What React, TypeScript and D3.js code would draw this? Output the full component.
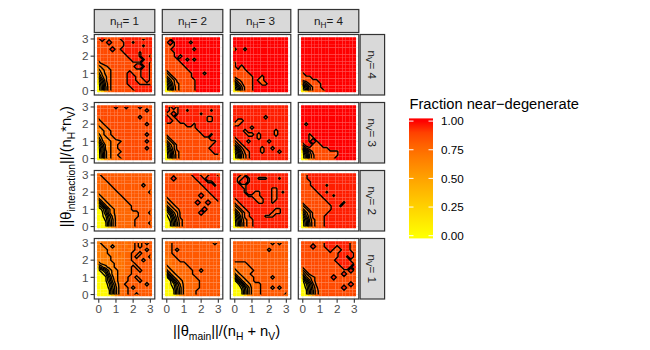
import React from 'react';
import * as d3 from 'd3';

// facet levels (rows listed top to bottom)
const nHLevels = [1, 2, 3, 4];
const nVLevels = [4, 3, 2, 1];
const gridSteps = [0, 0.2, 0.4, 0.6, 0.8, 1.0, 1.2, 1.4, 1.6, 1.8, 2.0, 2.2, 2.4, 2.6, 2.8, 3.0];
const axisTicks = [0, 1, 2, 3];
const contourBreaks = [0.1, 0.2, 0.3, 0.4, 0.5, 0.6, 0.7, 0.8, 0.9];
const legendBreaks = [0, 0.25, 0.5, 0.75, 1];

// each cell is one char: '0'..'k' = 0/20 .. 20/20 of the fraction.
// rows run from y = 3 (top) down to y = 0, columns from x = 0 to x = 3
const codeChars = '0123456789abcdefghijk';

const gridV4H1 = [
  'hjhhhhhjjjjjjhjj', 'hhhjhhhhjjhjjjjj', 'hhhhhhhhjjjjjhjj', 'hhhhjhhjjjjjjjjj',
  'hhhhhhhhjjjjhjjj', 'hhhhhhhhhjjjhjjh', 'ghhhhhhhhhjjjhjj', 'fghhhhhhhhhhhjjh',
  'defghhhhhhhjjhjh', 'bdefghhhhhhhhjjh', '9cefghhhhjhhhjjh', '6bdfghhhhjjhhjjh',
  '38dfghhhhjjhhhjh', '16cfghhhhjjjhhhh', '05bfghhhhhjjjjjj', '05bfghhhhhhjjjjj',
];
const gridV4H2 = [
  'hhkkkkkkkkkkkkkk', 'hkhkkkkgkkkkkkkk', 'hhhkkkkkkkkkkkkk', 'hhkkkkkkgkkkkkkk',
  'hhhkkkkkkkkkkkkk', 'hhhkgkkkkkkkkkkk', 'hhhhkkgkgkkkkkkk', 'hhhhhkkkkkkkkkkk',
  'hhhhhhkkkkkkkkkk', 'ghhhhhhkkkkkkkkk', 'dghhhhhhkkkgkkkk', 'bdghhhhhkkkkkkkk',
  '6bdghhhhhkkkkkkk', '38dfghhhhkkkkkkk', '16cfghhhhkkkkkkk', '05cfghhhhkkkkkkk',
];
const gridV4H3 = [
  'kkkkkkkkkkkkkkkk', 'kkkkkkkkkkkkkkkk', 'kkkkkkkkkkkkkkkk', 'gkkgkkkkkkkkkkkk',
  'kkkkkkkkkkkkkkkk', 'kkkkkkkkkkkkkkkk', 'kkkkkkkkkkkkkkkk', 'hkkkkkkkkkkkkkkk',
  'hkgkkkkkkkkkkkkk', 'hhhhkkkkkkkkkkkk', 'hhhhhkkkkkkkkkkk', 'ghhhhhkkgkkkkkkk',
  'cfghhhkggkkkkkkk', '6cfhhhkkggkkkkkk', '38dghhkkkkkkkkkk', '16dghhkkkkkkkkkk',
];
const gridV4H4 = [
  'kkkkkkkkkkkkkkkk', 'kkkkkkkkkkkkkkkk', 'kkkkkkkkkkkkkkkk', 'kkkkkkkkkkkkkkkk',
  'kkkkkkkkkkkkkkkk', 'kkkkkkkkkkkkkkkk', 'kkkkkkkkkkkkkkkk', 'kkkkkkkkkkkkkkkk',
  'kkkkkkkkkkkkkkkk', 'kkkkkkkkkkkkkkkk', 'hkkkkkkkkkkkkkkk', 'hhhkkkkkkkkkkkkk',
  'ghhhhkkkkkkkkkkk', 'bdghhhkkkkkkkkkk', '38dghhkkkkkkkkkk', '16dghhhkkkkkkkkk',
];
const gridV3H1 = [
  'hhhhhihhihhhihhh', 'hhhhhhhhhhhhhhih', 'hhhhhhhhhhhhhhhh', 'ghhhhhhhhhhhihhh',
  'fghhhhhhhhhhhhhh', 'efghhhhhhhhhhhih', 'defghhhhhhhhhhhh', 'ddefghhhhhhhhhhh',
  'bdefghhhhhhhhhih', '9cdefghhhhhhhhhh', '6bddeffghhhhhhih', '38cdefghhhhhhhhh',
  '16cdefghhhhhhhih', '06bdeffghhhhhhhh', '05bdefghhhhhhhhh', '05bdeffghhhhhhhh',
];
const gridV3H2 = [
  'jhjhjjjjjjjjjjjj', 'jhhhjjhjjjjjjhjj', 'hhjhjjjjjjhjjjjj', 'jhhjjjjjjjjjhhjj',
  'jjhhjjjjjjjjhhjj', 'hhhhhhjjhjjjjjjj', 'hhhhhhhhhjjjjjjj', 'hhhhhhhhhhjjjjjj',
  'ghhhhhhhhhhjjhjj', 'dghhhhhhhhhhhjjj', 'bdghhhhhhhhhhhhj', '6bdghhhhhhhhhhjj',
  '39dghhhhhhhhhjjj', '16cfghhhhhhhhhjj', '05bfghhhhhhhhhhh', '05bfghhhhhhhhhhh',
];
const gridV3H3 = [
  'jjjjjjjjjjjjjjjj', 'jjjjjjjjjjjjjjjj', 'jjjjjjjjjjjjjjjj', 'jjjjjjjjjgjjjjjj',
  'jggjjjjjjjjjjjjj', 'ggjjjjjjjjjjjjjj', 'jjjjjgjjjjjjjjjj', 'jjjgjjjjjjjjgjjj',
  'jjjjggjgjjjjgjjj', 'hjjjjjjgjjjjjjjj', 'fhjjgjjjjjgjjjjj', 'cfhjjjjjjjjjjjjj',
  '6bfhjjjjgjjgjjjj', '27dghjjjgjjjjgjj', '05cfhjjjjjjjjjjj', '05cfhjjjjjjjjjjj',
];
const gridV3H4 = [
  'kkkkkkkkkkkkkkkk', 'kkkkkkkkkkkkkkkk', 'kkkkkkkkkkkkkkkk', 'kkkkkkkkkkkkkkkk',
  'kkkkkkkkkkkkkkkk', 'kgkkkkkkkkkkkkkk', 'kkkkkkkkkkkkkkkk', 'kkkkkkkkkkkkkkkk',
  'kkhkkkkkkkkkkkkk', 'kkhhkkkkkkkkkkkk', 'jkhkhkkkkkkkkkkk', 'gjkhhhkkkkkkkkkk',
  'bfhhhhhhkkkkkkkk', '28dghhhhhhhkkkkk', '05cfhhhhhhhkkkkk', '05cfhhhhhhkkkkkk',
];
const gridV2H1 = [
  'fggggggggggggggg', 'ffgggggggggggggg', 'fffggggggggggggg', 'ffffgggggggggfgg',
  'fffffggggggggggg', 'efffffgggggggggf', 'defffffggggggggg', 'bdefffffgggggggg',
  '6bdefffffggggggg', '36bdefffffgggggg', '026bdeffffgggggg', '015bdeffffffgggf',
  '0138ceffffffgggg', '0027befffffggggg', '0016befffffggggf', '0016befffffggggg',
];
const gridV2H2 = [
  'hhhhhhhhjjhhhjjh', 'hhjhhhhhhjjhjjjj', 'hhhhhhhhhhjjhhjj', 'hhhhhhhhhhhjjjhj',
  'hhhhhhhhhhhhjjjj', 'hhhhhhhhhhhhhjjj', 'ghhhhhhhhhjhhhjj', 'fghhhhhhhhhhhhhj',
  'dfghhhhhhjhhjhhh', 'bdfghhhhhhhhhhhh', '6bdfghhhhhhjhhhh', '26bdghhhhhjhhhhh',
  '139dghhhhhhhhhhh', '027cfghhhhhhhhhh', '016bfghhhhhhhhhh', '016bfghhhhhhhhhh',
];
const gridV2H3 = [
  'jjhhjjjjjjjjjjjj', 'jhhjhjjhhhjjjhjj', 'jhjjhjjjjjjjjjjj', 'jjhhjjjjjjjjjjjj',
  'jjjhjjjjjjjhhjjj', 'jjjhjjhhjjjhhjhj', 'jjjjhhhhjjjhhjjj', 'hjjjjjhhhjjhhjjj',
  'ghjjjjjhhjjhjjjj', 'dghjjjjjjjjjjjjj', 'bdghjjjjjjjjhhjj', '6bdghjjjjjjhhhjj',
  '38dghjjjjhhhjjjj', '16cfghjjjjjjjjjj', '05bfghjjjjjjjjjj', '05bfghjjjjjjjjjj',
];
const gridV2H4 = [
  'hhjjjjjjjjjjjjjj', 'hhjjjjjjjjjjjjjj', 'hhhjjjjjjjjjjjjj', 'hhhjjjjhjjjjjjjj',
  'hhhhjjjjjjjjjjjj', 'hhhhhjjhjjjjjjjj', 'hhhhhhjjjhjjjjjj', 'hhhhhhhjjjjjjjjj',
  'ghhhhhhhjjjjhjjj', 'dghhhhhhhjjhjjjj', 'bdghhhhhhjjjjjjj', '6bdghhhhjjjjjjjj',
  '39dghhhjjjjjjjjj', '16cfghhjjjjjjjjj', '05bfghhjjjjjjjjj', '05bfghhjjjjjjjjj',
];
const gridV1H1 = [
  'deeeeeffeffgfgfg', 'ddeedeefeffgfggg', 'dddeeeeffefgggfg', 'dddeeefeffggfggg',
  'ddddeeeeffgfgggf', 'cdddeeeeffgggfgg', 'bccddeeefffggggg', '69bcdeeeffgfgggg',
  '136acdeeffggfggg', '0139cdeeffgggggg', '0016bdeffggfgggg', '0015adeffgggfggg',
  '00038cefggggggfg', '00027beffgfggggg', '00016beffggggggg', '00016beffggfgggg',
];
const gridV1H2 = [
  'ffggggggggggggfg', 'ffgggggggggggggg', 'ffgfgggggggggggg', 'ffgggggggggggggg',
  'effggggggggggggg', 'eeffgggggggggggg', 'eeffffgggggggggg', 'deeffffggggggggg',
  'bdefffffggfggggg', '6bdeffffgggggggg', '16bdeffffggggggg', '016bdeffffgggggg',
  '0138ceffffgggggg', '0027beffffgggggg', '0016befffggggggg', '0016befffggggggg',
];
const gridV1H3 = [
  'gggggggggggfgfgg', 'gggggggggggggggg', 'ggggggggggfggggg', 'gggggggggggggggg',
  'gggggggggggggggg', 'gggggggggggggggg', 'ffffgggggggggggg', 'effffggggggggggg',
  'deffffgggggggggg', 'bdeffggggggggggg', '6bdeffgggggfgggg', '16bdefgggggggggg',
  '015bdeffgggggggg', '0027beffgggfgfgg', '0016beffgggggggg', '0016beffgggggggf',
];
const gridV1H4 = [
  'hhhhhhhjjjjjjjhh', 'hhhjhhhjjjhjjjhh', 'hhhhhhhhjhhhjjhh', 'hhhhhhhhhhhjjjjh',
  'hhhhhhhhhhhjjhjh', 'hhhhhhhhhhjjjjhh', 'hhhhhhhhhhhjjjjh', 'ghhhhhhhhhhhjjhj',
  'dghhhhhhhhhhhhjh', 'adghhhhhhhhhjhhh', '5bdfghhhhjhhhhhh', '16bfghhhhhhhhhhh',
  '038dghhhhhhhhhjh', '027cfhhhhhhhjhhh', '016bfghhhhhhhhhh', '016bfghhhhhhhhhh',
];

const panelGrids: Record<string, string[]> = {
  '4-1': gridV4H1, '4-2': gridV4H2, '4-3': gridV4H3, '4-4': gridV4H4,
  '3-1': gridV3H1, '3-2': gridV3H2, '3-3': gridV3H3, '3-4': gridV3H4,
  '2-1': gridV2H1, '2-2': gridV2H2, '2-3': gridV2H3, '2-4': gridV2H4,
  '1-1': gridV1H1, '1-2': gridV1H2, '1-3': gridV1H3, '1-4': gridV1H4,
};

const FONT = '"Liberation Sans", Arimo, Arial, Helvetica, sans-serif';
const W = 650;
const H = 350;
const panelSize = 60.5;
const panelX0 = 94.3;
const panelY0 = 34.5;
const panelStep = 68;
const expand = 0.26;

const fillScale = d3.scaleLinear<string>()
  .domain([0, 1])
  .range(['#FFFF00', '#FF0000'])
  .interpolate(d3.interpolateLab)
  .clamp(true);

// codes are twentieths; nudged a little so no cell sits exactly on a break
const decode = (rows: string[]) =>
  rows.map(r => Array.from(r).map(ch => Math.min(1, codeChars.indexOf(ch) / 20 + 0.025)));

const Sub = ({ children, size, shift }: any) => (
  <tspan dy={shift} fontSize={size}>{children}</tspan>
);

function Panel({ grid, left, top, id }: { grid: string[]; left: number; top: number; id: string }) {
  const x = d3.scaleLinear().domain([-expand, 3 + expand]).range([left, left + panelSize]);
  const y = d3.scaleLinear().domain([-expand, 3 + expand]).range([top + panelSize, top]);
  const n = gridSteps.length;
  const step = gridSteps[1] - gridSteps[0];
  const half = step / 2;
  const values = decode(grid);

  const contours = d3.contours().size([n, n]).thresholds(contourBreaks)(values.flat());
  const proj = d3.geoTransform({
    point(gx: number, gy: number) {
      (this as any).stream.point(x(gridSteps[0] + (gx - 0.5) * step), y(gridSteps[n - 1] - (gy - 0.5) * step));
    },
  });
  const path = d3.geoPath(proj);

  const minors = [0.5, 1.5, 2.5];

  return (
    <g>
      <defs>
        <clipPath id={`clip-${id}`}>
          <rect x={x(0)} y={y(3)} width={x(3) - x(0)} height={y(0) - y(3)} />
        </clipPath>
      </defs>
      <rect x={left} y={top} width={panelSize} height={panelSize} fill="#FFFFFF" />
      {minors.map(m => (
        <g key={`mi${m}`}>
          <line x1={x(m)} x2={x(m)} y1={top} y2={top + panelSize} stroke="#EBEBEB" strokeWidth={0.5} />
          <line y1={y(m)} y2={y(m)} x1={left} x2={left + panelSize} stroke="#EBEBEB" strokeWidth={0.5} />
        </g>
      ))}
      {axisTicks.map(m => (
        <g key={`ma${m}`}>
          <line x1={x(m)} x2={x(m)} y1={top} y2={top + panelSize} stroke="#EBEBEB" strokeWidth={1} />
          <line y1={y(m)} y2={y(m)} x1={left} x2={left + panelSize} stroke="#EBEBEB" strokeWidth={1} />
        </g>
      ))}
      {values.map((row, r) =>
        row.map((v, i) => {
          const cx = gridSteps[i];
          const cy = gridSteps[n - 1 - r];
          return (
            <rect
              key={`${r}-${i}`}
              x={x(cx - half)}
              y={y(cy + half)}
              width={x(cx + half) - x(cx - half)}
              height={y(cy - half) - y(cy + half)}
              fill={fillScale(v)}
            />
          );
        })
      )}
      <g clipPath={`url(#clip-${id})`}>
        {contours.map((c, k) => (
          <path key={k} d={path(c as any) || ''} fill="none" stroke="#000000" strokeWidth={1.4} strokeLinejoin="round" />
        ))}
      </g>
      <rect x={left} y={top} width={panelSize} height={panelSize} fill="none" stroke="#333333" strokeWidth={1.2} />
    </g>
  );
}

export default function App() {
  const colLeft = (c: number) => panelX0 + c * panelStep;
  const rowTop = (r: number) => panelY0 + r * panelStep;
  const bottom = rowTop(nVLevels.length - 1) + panelSize;
  const rightEdge = colLeft(nHLevels.length - 1) + panelSize;
  const axisScale = (left: number) => d3.scaleLinear().domain([-expand, 3 + expand]).range([left, left + panelSize]);
  const axisScaleY = (top: number) => d3.scaleLinear().domain([-expand, 3 + expand]).range([top + panelSize, top]);

  // legend
  const legX = 409;
  const legW = 24;
  const legY = d3.scaleLinear().domain([0, 1]).range([235.7, 121.1]);
  const fmt = d3.format('.2f');
  const gradStops = d3.range(0, 1.0001, 0.1);

  const stripX = rightEdge + 1.3;
  const stripW = 24.5;

  return (
    <div style={{ position: 'absolute', left: 0, top: 0 }}>
      <svg width={W} height={H} style={{ display: 'block', fontFamily: FONT }}>
        <rect width={W} height={H} fill="#FFFFFF" />

        {nVLevels.map((nv, r) =>
          nHLevels.map((nh, c) => (
            <Panel key={`${nv}-${nh}`} id={`${nv}-${nh}`} grid={panelGrids[`${nv}-${nh}`]} left={colLeft(c)} top={rowTop(r)} />
          ))
        )}

        {/* top strips */}
        {nHLevels.map((nh, c) => (
          <g key={`st${nh}`}>
            <rect x={colLeft(c)} y={9.5} width={panelSize} height={23} fill="#D9D9D9" stroke="#333333" strokeWidth={1.2} />
            <text x={colLeft(c) + panelSize / 2} y={25.2} textAnchor="middle" fontSize={11.7} fill="#1A1A1A">
              n<Sub size={8.2} shift={2.6}>H</Sub><tspan dy={-2.6}>{`= ${nh}`}</tspan>
            </text>
          </g>
        ))}

        {/* right strips */}
        {nVLevels.map((nv, r) => (
          <g key={`sr${nv}`}>
            <rect x={stripX} y={rowTop(r)} width={stripW} height={panelSize} fill="#D9D9D9" stroke="#333333" strokeWidth={1.2} />
            <text
              transform={`translate(${stripX + stripW / 2 - 4.2},${rowTop(r) + panelSize / 2}) rotate(90)`}
              textAnchor="middle" fontSize={11.7} fill="#1A1A1A"
            >
              n<Sub size={8.2} shift={2.6}>V</Sub><tspan dy={-2.6}>{`= ${nv}`}</tspan>
            </text>
          </g>
        ))}

        {/* bottom axes */}
        {nHLevels.map((nh, c) => {
          const sx = axisScale(colLeft(c));
          return (
            <g key={`ax${nh}`}>
              {axisTicks.map(t => (
                <g key={t}>
                  <line x1={sx(t)} x2={sx(t)} y1={bottom} y2={bottom + 3.7} stroke="#333333" strokeWidth={1.1} />
                  <text x={sx(t)} y={bottom + 14.3} textAnchor="middle" fontSize={11.7} fill="#4D4D4D">{t}</text>
                </g>
              ))}
            </g>
          );
        })}

        {/* left axes */}
        {nVLevels.map((nv, r) => {
          const sy = axisScaleY(rowTop(r));
          return (
            <g key={`ay${nv}`}>
              {axisTicks.map(t => (
                <g key={t}>
                  <line x1={panelX0 - 3.7} x2={panelX0} y1={sy(t)} y2={sy(t)} stroke="#333333" strokeWidth={1.1} />
                  <text x={panelX0 - 5.9} y={sy(t) + 4.2} textAnchor="end" fontSize={11.7} fill="#4D4D4D">{t}</text>
                </g>
              ))}
            </g>
          );
        })}

        {/* axis titles */}
        <text x={(panelX0 + rightEdge) / 2} y={336} textAnchor="middle" fontSize={14.7} fill="#000000">
          ||θ<Sub size={10.3} shift={3.5}>main</Sub><tspan dy={-3.5}>||/(n</tspan>
          <Sub size={10.3} shift={3.5}>H</Sub><tspan dy={-3.5}> + n</tspan>
          <Sub size={10.3} shift={3.5}>V</Sub><tspan dy={-3.5}>)</tspan>
        </text>
        <text
          transform={`translate(71,${(panelY0 + bottom) / 2}) rotate(-90)`}
          textAnchor="middle" fontSize={14.7} fill="#000000"
        >
          ||θ<Sub size={10.3} shift={3.5}>interaction</Sub><tspan dy={-3.5}>||/(n</tspan>
          <Sub size={10.3} shift={3.5}>H</Sub><tspan dy={-3.5}>*n</tspan>
          <Sub size={10.3} shift={3.5}>V</Sub><tspan dy={-3.5}>)</tspan>
        </text>

        {/* legend */}
        <defs>
          <linearGradient id="legGrad" gradientUnits="userSpaceOnUse" x1={0} x2={0} y1={legY(0)} y2={legY(1)}>
            {gradStops.map(t => (
              <stop key={t} offset={t} stopColor={fillScale(t)} />
            ))}
          </linearGradient>
        </defs>
        <text x={409.5} y={108.5} fontSize={14.7} fill="#000000">Fraction near−degenerate</text>
        <rect x={legX} y={118.4} width={legW} height={238.4 - 118.4} fill="url(#legGrad)" />
        {legendBreaks.map(b => (
          <g key={b}>
            <line x1={legX} x2={legX + 4.5} y1={legY(b)} y2={legY(b)} stroke="#FFFFFF" strokeWidth={1} />
            <line x1={legX + legW - 4.5} x2={legX + legW} y1={legY(b)} y2={legY(b)} stroke="#FFFFFF" strokeWidth={1} />
            <text x={441} y={legY(b) + 4.2} fontSize={11.7} fill="#000000">{fmt(b)}</text>
          </g>
        ))}
      </svg>
    </div>
  );
}
